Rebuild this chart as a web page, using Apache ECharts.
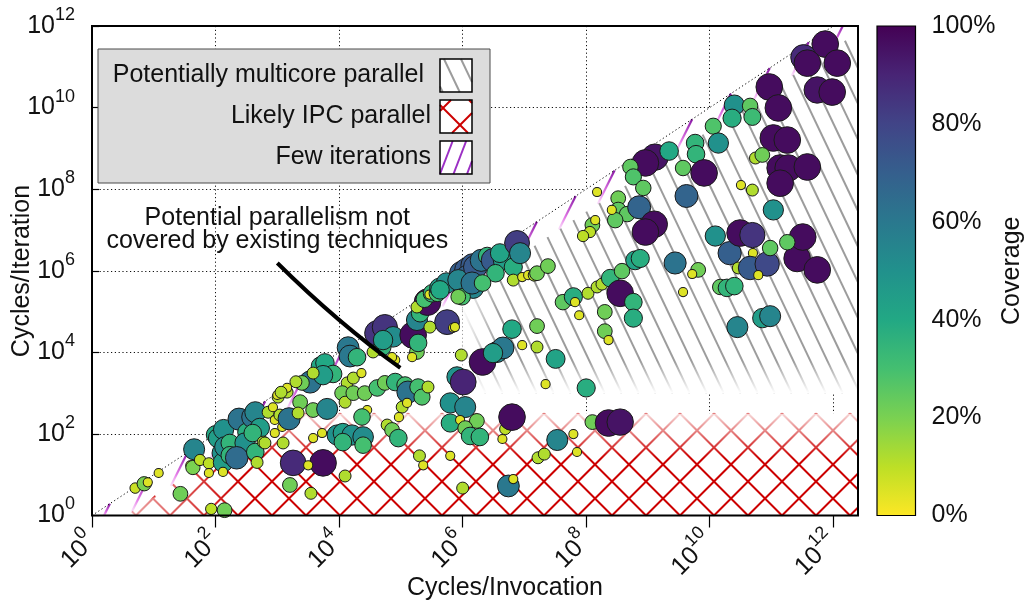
<!DOCTYPE html>
<html>
<head>
<meta charset="utf-8">
<script src="https://cdn.jsdelivr.net/npm/echarts@6/dist/echarts.min.js"></script>
<style>html,body{margin:0;padding:0;background:#fff}#chart{width:1030px;height:603px}</style>
</head>
<body>
<div id="chart"></div>
<script>
// ---------------- data ----------------
const INVOCATION = [
 5,7,8,12,27,85,140,1600,3500,1.25e4,2e5,2.3e5,6.3e5,1e6,
 45,39,43,56,78,78,100,110,135,128,132,142,132,170,170,240,320,300,220,400,440,520,400,440,470,590,710,850,910,1100,1200,1240,910,
 1550,2340,2170,3800,6400,1030,1000,1440,3400,2500,2000,1440,1150,5000,5900,8000,5500,3800,1.4e4,1.5e4,1.95e4,1.35e4,1.7e4,2.3e4,1.12e4,1.25e4,1.7e4,2.6e4,2.85e4,2.35e4,4.15e4,5.5e4,8.1e4,1.17e5,1.3e5,1.9e5,2.2e5,2.75e5,1.05e5,1.26e5,9.3e4,6e4,7.2e4,9.1e4,9300,1.15e4,1.62e4,2.45e4,1.15e4,2.45e4,3800,5300,1800,5500,3160,630,
 4.15e4,5.5e4,7.5e4,5e4,5.15e4,8.1e4,7.2e4,1.58e5,1.82e5,1.9e5,1.52e5,1.82e5,2.05e5,2.7e5,1.82e5,2.4e5,3.2e5,2.9e5,3.9e5,5.6e5,7e5,4.2e5,5.5e5,9.5e5,1.15e6,1.45e6,1.18e6,8.5e5,1.48e6,1.6e6,9.8e5,1.42e6,2e6,2.5e6,3.1e6,4.5e6,6.6e6,4e6,7.6e6,8.5e6,6.6e6,9.2e6,1.15e7,4.3e5,8.5e5,3.55e4,2.95e5,7.5e5,3.4e6,2.1e6,
 9.5e5,2.1e6,3.6e6,4.5e6,9.2e6,8.1e5,1.02e6,6.3e5,1.1e6,6.3e5,9.1e5,1.7e6,1.1e6,1.32e6,1.9e6,4.4e6,4.9e6,6.3e6,
 1.44e7,1.6e7,2.4e7,4.2e7,6.2e7,6.6e7,1.07e8,1.5e8,1.8e8,2.45e8,3.8e8,3.55e8,5.8e8,6.2e8,7.5e8,7.7e7,2e8,5.8e8,2e8,2.3e8,2.75e9,6.5e9,5.2e9,3.7e9,6.3e6,1.6e7,1.6e7,3.1e6,3.2e7,2.2e7,1e8,3.4e7,6.2e7,7.1e7,1.66e7,2.1e7,5.5e6,6.6e6,1.26e8,2.3e8,3.55e8,1.48e10,1.9e10,2.5e10,2.8e10,7.1e10,9.5e10,2.1e10,2.9e10,5e10,4.5e10,8.5e10,6.1e10,2.6e11,5.5e11,
 7.4e11,3.3e11,3.8e11,1.16e12,5.5e11,9.6e11,9.2e10,1.29e11,1.07e11,1.8e11,1.38e11,1.86e11,3.8e11,1.38e11,2.5e10,4.5e10,2.3e10,4.9e10,1.14e10,5.8e9,1.38e10,6e9,1.3e9,9.1e8,2.2e9,5.2e8,5.8e8,3.7e9,8.1e9,8.4e8,5.5e10,7.1e10,3.2e10,4.9e10,1.5e8,3.3e8,3.3e8,4.6e8,2.95e8,2.6e8,1.26e8,1.4e8,1.15e8,8.9e7,7.2e8,1.26e9,9.1e8,4.2e9,1.07e11,1.23e10,3.1e10,4.9e10,9.5e10,3.2e11,1.8e11
];
const ITERATION = [
 4.7,6,6.5,11,3.4,1.45,1.35,5.6,3.5,9.3,29,17,29,4.7,
 42,17,15,23,19,11,95,79,128,34,20,48,11.7,60,30,230,110,60,26,260,340,140,105,36,20,63,340,450,220,290,148,60,105,
 235,600,325,385,410,800,900,1060,1870,1780,1900,1350,1050,4600,5500,2950,2760,3100,1.3e4,8100,7600,1780,2340,3100,1000,600,1000,1000,385,260,1340,1780,1870,1580,1060,1410,800,1410,455,575,258,165,125,79,94,105,94,84,63,53,79,105,19.5,19.5,17,60,
 2.95e4,4.15e4,2.4e4,1.35e4,2e4,6500,7600,2.65e4,1.02e4,1.7e4,7600,6.2e4,9.1e4,1.7e5,1.29e5,2e5,2.8e5,2.6e5,2.8e5,5.5e4,4e4,3.8e5,5e5,8.8e5,1.05e6,1.35e6,7e5,5.9e5,3.8e5,1.23e6,2.3e5,5e5,1.8e6,2.3e6,1.8e6,1.8e6,1.23e6,2.7e6,4.8e6,2.7e6,5.9e5,7e5,7.8e5,3.4e5,2.3e5,1.02e4,4.15e4,4.15e4,8.7e5,5e5,
 8600,5800,1.02e4,1.28e4,1.5e4,2500,1870,575,455,185,220,208,139,89,84,75,132,258,
 7.8e5,8.7e5,1.3e6,1.7e5,2.3e5,1.7e5,2.8e5,4e5,4.7e5,6.6e5,9.8e5,2.8e5,1.7e5,1.8e6,2e6,8.1e4,9.8e4,6.9e4,3.3e4,2e4,1.55e6,1.05e6,8.3e5,3e5,3.7e4,4.4e4,1.35e4,9600,6900,1660,1340,71,99,36,26,32,5.3,7.8,195,185,195,4e5,3.8e5,4.2e5,4.15e4,6.9e4,7.7e4,2.7e6,1.17e6,2.7e6,1.17e6,1.46e6,7.8e5,2e6,1.05e6,
 3.6e11,1.7e11,1.23e11,1.23e11,2.7e10,2.4e10,3.2e10,9.8e9,1.8e9,1.6e9,3.3e8,3.3e8,3.5e8,1.4e8,1.15e10,1.1e10,5.5e9,5.9e9,3.5e9,1.35e9,1.35e9,7.2e8,6.1e8,4.4e8,8.6e8,3.5e8,2e8,3.3e8,2.5e8,1.07e8,5.8e8,6.9e8,1.26e8,9.5e7,8.5e7,6e7,3.1e7,2.45e7,1.74e7,3.1e7,1.32e7,1.74e7,8.9e6,7.1e6,3.6e7,1.38e7,8.9e6,6.8e7,3.1e7,7.1e6,8.4e6,7.5e6,3.6e6,6.7e6,5e6
];
const COVERAGE = [
 8,20,5,5,22,10,22,22,12,12,12,5,5,12,
 55,5,20,10,10,5,40,45,50,50,45,52,5,35,35,62,38,50,65,62,55,45,35,35,12,12,12,5,5,12,5,12,5,
 62,22,12,22,55,12,5,12,62,22,12,5,12,40,40,35,45,12,60,60,35,12,12,5,22,12,22,22,5,30,30,22,35,30,62,30,28,12,12,5,5,12,22,35,50,45,50,52,35,30,5,5,88,97,5,12,
 85,85,52,35,45,5,5,97,22,35,5,55,35,97,12,30,35,5,30,82,5,45,52,70,72,72,70,55,55,72,30,62,62,35,72,45,38,42,82,55,12,5,5,40,22,12,12,5,35,30,
 12,97,55,60,5,50,90,50,55,38,5,22,22,35,35,5,10,97,
 12,22,22,25,38,5,12,12,12,35,25,97,35,42,38,5,22,38,22,5,62,22,5,5,40,22,12,45,42,5,38,55,5,5,12,12,60,5,22,97,95,25,35,35,55,45,55,70,12,5,72,78,5,97,97,
 97,88,97,97,95,97,97,97,97,97,97,97,97,97,50,25,38,32,28,35,50,35,95,97,40,25,28,25,97,25,12,22,5,12,5,22,25,25,25,5,22,5,10,10,68,97,97,68,50,50,97,85,25,97,25
];

// region boundaries (data units)
const X_PAR = 1e6;            // multicore region starts at this cycles/invocation
const Y_PAR = 1e3;            // ...and above this cycles/iteration
const Y_IPC = Math.pow(10, 2.5); // IPC region below this cycles/iteration
const FEW = Math.pow(10, 0.55);  // "few iterations" band ratio
const DIAGONAL = [[1, 1], [1e12, 1e12]];

const LEGEND_LABELS = ['Potentially multicore parallel', 'Likely IPC parallel', 'Few iterations'];
const ANNOT_LINES = ['Potential parallelism not', 'covered by existing techniques'];
const ANNOT_TEXT_POS = [[1e3, 1.95e7], [1e3, 5.4e6]];
const ANNOT_CURVE = [[1e3, 1.55e6], [9600, 5.2e4], [9.8e4, 4150]];
const X_NAME = 'Cycles/Invocation';
const Y_NAME = 'Cycles/Iteration';
const C_NAME = 'Coverage';

// viridis, 0% -> 100%
const VIRIDIS = ['#fde725','#bddf26','#7ad151','#44bf70','#22a884','#21918c','#2a788e','#355f8d','#414487','#482475','#440154'];

const FONT = 'Liberation Sans';
const TXT = '#111';

// ---------------- geometry helpers ----------------
function clipSeg(p0, p1, fs) {
  let t0 = 0, t1 = 1;
  for (const f of fs) {
    const a = f(p0), b = f(p1);
    if (a < 0 && b < 0) return null;
    if (a < 0) t0 = Math.max(t0, a / (a - b));
    else if (b < 0) t1 = Math.min(t1, a / (a - b));
  }
  if (t1 <= t0) return null;
  const L = t => [p0[0] + t * (p1[0] - p0[0]), p0[1] + t * (p1[1] - p0[1])];
  return [L(t0), L(t1)];
}
function clipPoly(poly, f) {
  const out = [];
  for (let i = 0; i < poly.length; i++) {
    const a = poly[i], b = poly[(i + 1) % poly.length];
    const fa = f(a), fb = f(b);
    if (fa >= 0) out.push(a);
    if ((fa >= 0) !== (fb >= 0)) {
      const t = fa / (fa - fb);
      out.push([a[0] + t * (b[0] - a[0]), a[1] + t * (b[1] - a[1])]);
    }
  }
  return out;
}
// family of parallel lines with screen slope k (dy/dx), spacing s (horizontal)
function hatchFamily(k, s, phase, box) {
  const out = [];
  const y0 = box.T - 2, y1 = box.B + 2;
  const span = (y1 - y0) / Math.abs(k);
  const start = box.L - span - s;
  let c = phase + Math.floor((start - phase) / s) * s;
  for (; c <= box.R + span + s; c += s) {
    out.push([[c + (y0 - box.B) / k, y0], [c + (y1 - box.B) / k, y1]]);
  }
  return out;
}
function rectPlanes(b) {
  return [p => p[0] - b.L, p => b.R - p[0], p => p[1] - b.T, p => b.B - p[1]];
}
function lineEl(s, style, z) {
  const el = {type: 'line', shape: {x1: s[0][0], y1: s[0][1], x2: s[1][0], y2: s[1][1]}, style: Object.assign({fill: null}, style)};
  if (z != null) el.z = z;
  return el;
}
function fadeEl(pts, x, y, x2, y2, a) {
  return {type: 'polygon', shape: {points: pts}, style: {stroke: null, fill: {type: 'linear', global: true, x: x, y: y, x2: x2, y2: y2,
    colorStops: [{offset: 0, color: 'rgba(255,255,255,' + a + ')'}, {offset: 1, color: 'rgba(255,255,255,0)'}]}}};
}

// ---------------- region hatching (drawn through the axes) ----------------
function hatchItem(params, api) {
  const cs = params.coordSys;
  const box = {L: cs.x, R: cs.x + cs.width, T: cs.y, B: cs.y + cs.height};
  const P = (x, y) => api.coord([x, y]);
  const d0 = P(DIAGONAL[0][0], DIAGONAL[0][1]), d1 = P(DIAGONAL[1][0], DIAGONAL[1][1]);
  const m = (d1[1] - d0[1]) / (d1[0] - d0[0]);
  const diagY = px => d0[1] + m * (px - d0[0]);
  const off = P(1e6, 1e6 / FEW)[1] - P(1e6, 1e6)[1];
  const lowY = px => diagY(px) + off;
  const xPar = P(X_PAR, 1)[0], yPar = P(1, Y_PAR)[1], yIpc = P(1, Y_IPC)[1];
  const inGrid = rectPlanes(box);
  const under = p => p[1] - lowY(p[0]);
  const grayF = inGrid.concat([p => p[0] - xPar, p => yPar - p[1], under]);
  const redF = inGrid.concat([p => p[1] - yIpc, under]);
  const bandOnly = [p => p[1] - diagY(p[0]), p => lowY(p[0]) - p[1]];
  const rect = [[box.L, box.T], [box.R, box.T], [box.R, box.B], [box.L, box.B]];
  const polyOf = fs => fs.reduce((poly, f) => clipPoly(poly, f), rect);
  const grayPoly = polyOf(grayF), redPoly = polyOf(redF), bandPoly = polyOf(inGrid.concat(bandOnly));
  const kids = [];
  const white = pts => ({type: 'polygon', shape: {points: pts}, style: {fill: '#fff', stroke: null}});
  kids.push(white(bandPoly), white(grayPoly), white(redPoly));
  const addLines = (lines, fs, style) => lines.forEach(l => { const s = clipSeg(l[0], l[1], fs); if (s) kids.push(lineEl(s, style)); });
  addLines(hatchFamily(2.1, 17, 0, box), grayF, {stroke: '#9c9c9c', lineWidth: 2});
  kids.push(fadeEl(grayPoly, 0, yPar, 0, yPar - 32, 1));
  kids.push(fadeEl(grayPoly, xPar, 0, xPar + 36, 0, 1));
  addLines(hatchFamily(1, 34, 0, box), redF, {stroke: '#cc0000', lineWidth: 2});
  addLines(hatchFamily(-1, 34, 0, box), redF, {stroke: '#cc0000', lineWidth: 2});
  kids.push(fadeEl(redPoly, 0, yIpc, 0, yIpc + 45, 0.85));
  kids.push(fadeEl(redPoly, box.L + 30, 0, box.L + 150, 0, 0.7));
  hatchFamily(-2, 26, 0, box).forEach(l => {
    const s = clipSeg(l[0], l[1], bandOnly); if (!s) return;
    const lo = s[0][1] > s[1][1] ? s[0] : s[1], hi = lo === s[0] ? s[1] : s[0];
    const g = clipSeg(s[0], s[1], inGrid); if (!g) return;
    kids.push(lineEl(g, {lineWidth: 2.2, stroke: {type: 'linear', global: true, x: lo[0], y: lo[1], x2: hi[0], y2: hi[1],
      colorStops: [{offset: 0, color: 'rgba(240,160,240,0.3)'}, {offset: 0.35, color: '#e47ce8'}, {offset: 1, color: '#8a1aa6'}]}}));
  });
  return {type: 'group', children: kids};
}

function annotItem(params, api) {
  const a = api.coord(ANNOT_CURVE[0]), c = api.coord(ANNOT_CURVE[1]), b = api.coord(ANNOT_CURVE[2]);
  const kids = [{type: 'bezierCurve', shape: {x1: a[0], y1: a[1], x2: b[0], y2: b[1], cpx1: c[0], cpy1: c[1]},
    style: {stroke: '#000', lineWidth: 4, fill: null}}];
  ANNOT_LINES.forEach((t, i) => {
    const p = api.coord(ANNOT_TEXT_POS[i]);
    kids.push({type: 'text', x: p[0], y: p[1], style: {text: t, fontSize: 25, fontFamily: FONT, fill: TXT, align: 'center', verticalAlign: 'middle'}});
  });
  return {type: 'group', children: kids};
}

function colorbarItem(params, api) {
  const a = api.coord([0, 100]), b = api.coord([1, 0]);
  return {type: 'rect', shape: {x: a[0], y: a[1], width: b[0] - a[0], height: b[1] - a[1]},
    style: {fill: {type: 'linear', x: 0, y: 1, x2: 0, y2: 0, colorStops: VIRIDIS.map((c, i) => ({offset: i / (VIRIDIS.length - 1), color: c}))},
      stroke: '#000', lineWidth: 1.2}};
}

// ---------------- legend, frame and axis titles (graphic) ----------------
function legendGraphic() {
  const els = [];
  els.push({type: 'rect', z: 50, shape: {x: 98, y: 49, width: 392, height: 134}, style: {fill: '#dcdcdc', stroke: '#4a4a4a', lineWidth: 1}});
  const sw = [
    {y: 59, fam: [[2.1, 17, 0.7]], color: '#9c9c9c'},
    {y: 100, fam: [[1, 34, 26], [-1, 34, 10]], color: '#cc0000'},
    {y: 141, fam: [[-2.6, 13.5, 8]], color: '#9b2fc4'}
  ];
  const textRight = [424, 431, 431];
  sw.forEach((s, i) => {
    const b = {L: 440, R: 472, T: s.y, B: s.y + 33};
    els.push({type: 'rect', z: 51, shape: {x: b.L, y: b.T, width: 32, height: 33}, style: {fill: '#fff', stroke: null}});
    s.fam.forEach(f => hatchFamily(f[0], f[1], f[2], b).forEach(l => {
      const c = clipSeg(l[0], l[1], rectPlanes(b)); if (c) els.push(lineEl(c, {stroke: s.color, lineWidth: 2}, 52));
    }));
    els.push({type: 'rect', z: 53, shape: {x: b.L, y: b.T, width: 32, height: 33}, style: {fill: 'rgba(0,0,0,0)', stroke: '#000', lineWidth: 1.5}});
    els.push({type: 'text', z: 53, x: textRight[i], y: b.T + 16.5, style: {text: LEGEND_LABELS[i], fontSize: 25, fontFamily: FONT, fill: TXT, align: 'right', verticalAlign: 'middle'}});
  });
  els.push({type: 'rect', z: 60, shape: {x: 92, y: 26, width: 766, height: 489.5}, style: {fill: 'rgba(0,0,0,0)', stroke: '#000', lineWidth: 2}});
  els.push({type: 'text', z: 60, x: 505, y: 588, style: {text: X_NAME, fontSize: 25, fontFamily: FONT, fill: TXT, align: 'center', verticalAlign: 'middle'}});
  els.push({type: 'text', z: 60, x: 22, y: 271, rotation: Math.PI / 2, style: {text: Y_NAME, fontSize: 25, fontFamily: FONT, fill: TXT, align: 'center', verticalAlign: 'middle'}});
  return els;
}

// ---------------- chart ----------------
const powLabel = v => {
  const e = Math.log10(v), r = Math.round(e);
  if (Math.abs(e - r) > 1e-6) return '';
  return '{b|10}{s|' + r + '}';
};
const RICH = {
  b: {fontSize: 25, lineHeight: 40, color: TXT, fontFamily: FONT},
  s: {fontSize: 18, lineHeight: 16, verticalAlign: 'top', color: TXT, fontFamily: FONT}
};
const DOTTED = {show: true, lineStyle: {type: [1.2, 2.6], color: '#111', width: 1}};

const scatterData = INVOCATION.map((x, i) => [x, ITERATION[i], COVERAGE[i]]);

const GRID_BASE = {show: false, containLabel: false, outerBoundsMode: 'none'};
const chart = echarts.init(document.getElementById('chart'));
chart.setOption({
  animation: false,
  backgroundColor: '#fff',
  textStyle: {fontFamily: FONT},
  grid: [
    Object.assign({left: 92, top: 26, width: 766, height: 489.5}, GRID_BASE),
    Object.assign({left: 92, top: 26, width: 766 * 12 / 12.4, height: 489.5}, GRID_BASE),
    Object.assign({left: 877, top: 26, width: 38.5, height: 489.5}, GRID_BASE)
  ],
  xAxis: [
    {type: 'log', gridIndex: 0, min: 1, max: Math.pow(10, 12.4), show: false},
    {type: 'log', gridIndex: 1, min: 1, max: 1e12, interval: 2,
      axisLine: {show: false},
      axisTick: {show: true, inside: false, length: 12, lineStyle: {color: '#000', width: 1.2}},
      axisLabel: {rotate: 45, margin: 22, formatter: powLabel, rich: RICH, showMinLabel: true, showMaxLabel: true},
      splitLine: DOTTED},
    {type: 'value', gridIndex: 2, min: 0, max: 1, show: false}
  ],
  yAxis: [
    {type: 'log', gridIndex: 0, min: 1, max: 1e12, interval: 2,
      axisLine: {show: false},
      axisTick: {show: true, inside: true, length: 7, lineStyle: {color: '#000', width: 1.2}},
      axisLabel: {margin: 17, formatter: powLabel, rich: RICH, showMinLabel: true, showMaxLabel: true},
      splitLine: DOTTED},
    {type: 'log', gridIndex: 1, min: 1, max: 1e12, show: false},
    {type: 'value', gridIndex: 2, min: 0, max: 100, interval: 20, position: 'right',
      axisLine: {show: false}, axisTick: {show: false}, splitLine: {show: false},
      axisLabel: {margin: 16, fontSize: 25, color: TXT, fontFamily: FONT, formatter: '{value}%'},
      name: C_NAME, nameLocation: 'middle', nameRotate: 90, nameGap: 84,
      nameTextStyle: {fontSize: 25, color: TXT, fontFamily: FONT}}
  ],
  visualMap: {type: 'continuous', show: false, dimension: 2, min: 0, max: 100, seriesIndex: 2, inRange: {color: VIRIDIS}},
  series: [
    {type: 'custom', name: 'regions', xAxisIndex: 0, yAxisIndex: 0, data: [[1, 1]], renderItem: hatchItem, silent: true, clip: false, z: 1},
    {type: 'line', name: 'diagonal', xAxisIndex: 0, yAxisIndex: 0, data: DIAGONAL, showSymbol: false, silent: true, z: 2,
      lineStyle: {type: [1.2, 2.6], color: '#000', width: 1}},
    {type: 'scatter', name: 'loops', xAxisIndex: 0, yAxisIndex: 0, data: scatterData, z: 3,
      symbolSize: v => 4 + 2.3 * Math.sqrt(v[2]),
      itemStyle: {borderColor: '#1a1a1a', borderWidth: 1, opacity: 1},
      emphasis: {disabled: true}},
    {type: 'custom', name: 'annotation', xAxisIndex: 0, yAxisIndex: 0, data: [[1, 1]], renderItem: annotItem, silent: true, clip: false, z: 4},
    {type: 'custom', name: 'colorbar', xAxisIndex: 2, yAxisIndex: 2, data: [[0, 0]], renderItem: colorbarItem, silent: true, clip: false}
  ],
  graphic: legendGraphic()
});
</script>
</body>
</html>
